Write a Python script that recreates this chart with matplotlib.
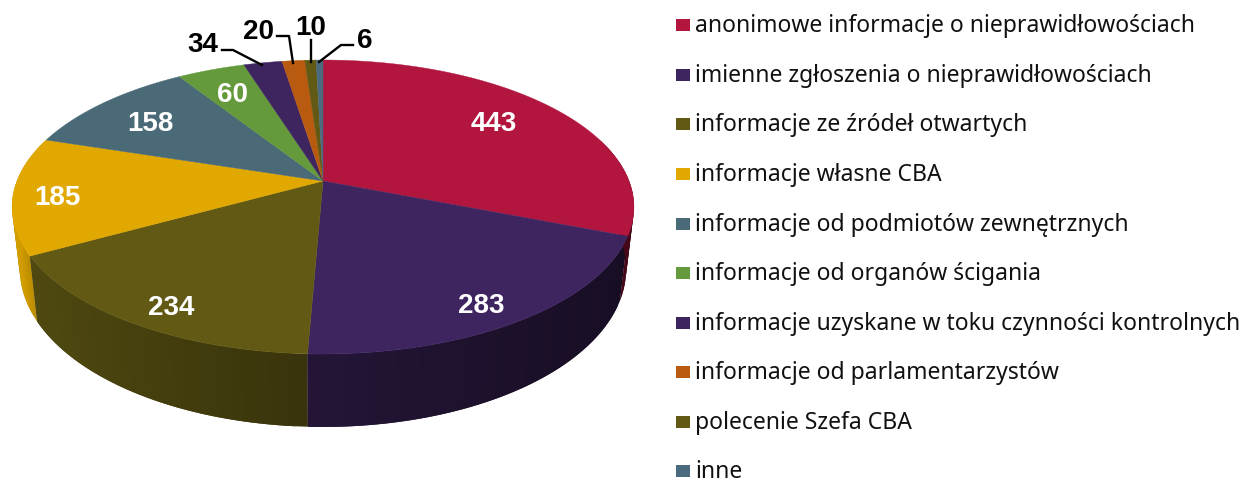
import numpy as np
import matplotlib
matplotlib.use('Agg')
import matplotlib.pyplot as plt

# dane
etykiety = ['anonimowe informacje o nieprawidłowościach',
            'imienne zgłoszenia o nieprawidłowościach',
            'informacje ze źródeł otwartych',
            'informacje własne CBA',
            'informacje od podmiotów zewnętrznych',
            'informacje od organów ścigania',
            'informacje uzyskane w toku czynności kontrolnych',
            'informacje od parlamentarzystów',
            'polecenie Szefa CBA',
            'inne']
wartosci = [443, 283, 234, 185, 158, 60, 34, 20, 10, 6]
kolory = ['#b2163f', '#3f2560', '#625a14', '#e0a800', '#4a6a78',
          '#659a3c', '#3f2560', '#b85a10', '#625a14', '#4a6a80']

# polozenie podpisow w pikselach
napisy_xy = [(494, 121), (481, 303), (171, 305), (57, 195), (150, 121), (233, 92)]
napisy_zew_xy = [(203, 42), (258, 29), (311, 25), (365, 38)]
linie_zew = [[(222, 50), (233, 50), (262, 65)],
             [(277, 36), (289, 36), (293, 63)],
             [(311, 40), (311, 62)],
             [(353, 45), (341, 45), (319, 62)]]
legenda_y = [25, 75, 124, 174, 224, 273, 323, 372, 422, 471]

# parametry rzutu perspektywicznego
cx, cy = 323, 181
A, B, k = 306, 142.4, 0.177
grubosc = 60
zwezenie = 0.975


def rzut(kat):
    # kat liczony od gory zgodnie z ruchem wskazowek
    s = 1 / (1 + k * np.cos(kat))
    return cx + A * np.sin(kat) * s, cy - B * np.cos(kat) * s, s


def cieniuj(kolor, x):
    # bok ciemnieje w prawo
    c = np.array(matplotlib.colors.to_rgb(kolor))
    return tuple(c * np.interp(x, [20, 35, 307, 620], [0.93, 0.8, 0.58, 0.38]))


plt.rcParams['font.family'] = ['Noto Sans', 'DejaVu Sans']
fig = plt.figure(figsize=(12.42, 4.8), dpi=100)
ax = fig.add_axes([0, 0, 1, 1])
ax.set_xlim(0, 1242)
ax.set_ylim(480, 0)
ax.axis('off')

granice = np.cumsum([0] + wartosci) / sum(wartosci) * 2 * np.pi

# boki wycinkow (tylko przednia czesc), paski zachodza na siebie zeby nie bylo szwow
for i in range(len(wartosci)):
    od, do = max(granice[i], np.pi / 2 - 0.3), min(granice[i + 1], 3 * np.pi / 2 + 0.3)
    if do <= od:
        continue
    katy = np.linspace(od, do, max(3, int((do - od) * 30)))
    for j in range(len(katy) - 1):
        a1 = katy[j]
        a2 = katy[min(j + 2, len(katy) - 1)]
        pas = np.linspace(a1, a2, 8)
        xp, yp, sp = rzut(pas)
        xd = cx + (xp - cx) * zwezenie
        yd = yp + grubosc * sp
        kol = cieniuj(kolory[i], rzut(katy[j])[0])
        ax.fill(np.r_[xp, xd[::-1]], np.r_[yp, yd[::-1]],
                facecolor=kol, edgecolor='none', zorder=2 + j * 1e-4)

# gorna powierzchnia
for i in range(len(wartosci)):
    katy = np.linspace(granice[i], granice[i + 1], 120)
    x, y, _ = rzut(katy)
    ax.fill(np.r_[cx, x], np.r_[cy, y], facecolor=kolory[i], edgecolor=kolory[i],
            linewidth=0.3, zorder=3)

# podpisy wartosci
for (x, y), w in zip(napisy_xy, wartosci[:6]):
    ax.text(x, y, str(w), color='white', fontsize=20, fontweight='bold',
            family='Liberation Sans', ha='center', va='center_baseline', zorder=5)
for (x, y), w in zip(napisy_zew_xy, wartosci[6:]):
    ax.text(x, y, str(w), color='black', fontsize=20, fontweight='bold',
            family='Liberation Sans', ha='center', va='center_baseline', zorder=5)
for linia in linie_zew:
    ax.plot([p[0] for p in linia], [p[1] for p in linia], color='black', lw=1.7, zorder=4)

# legenda
for y, tekst, kol in zip(legenda_y, etykiety, kolory):
    ax.add_patch(plt.Rectangle((676, y - 6), 14, 12, facecolor=kol, edgecolor='none'))
    ax.text(695, y + 7, tekst, color='#111111', fontsize=16.5, ha='left', va='baseline')

fig.savefig('out.png', dpi=100)
